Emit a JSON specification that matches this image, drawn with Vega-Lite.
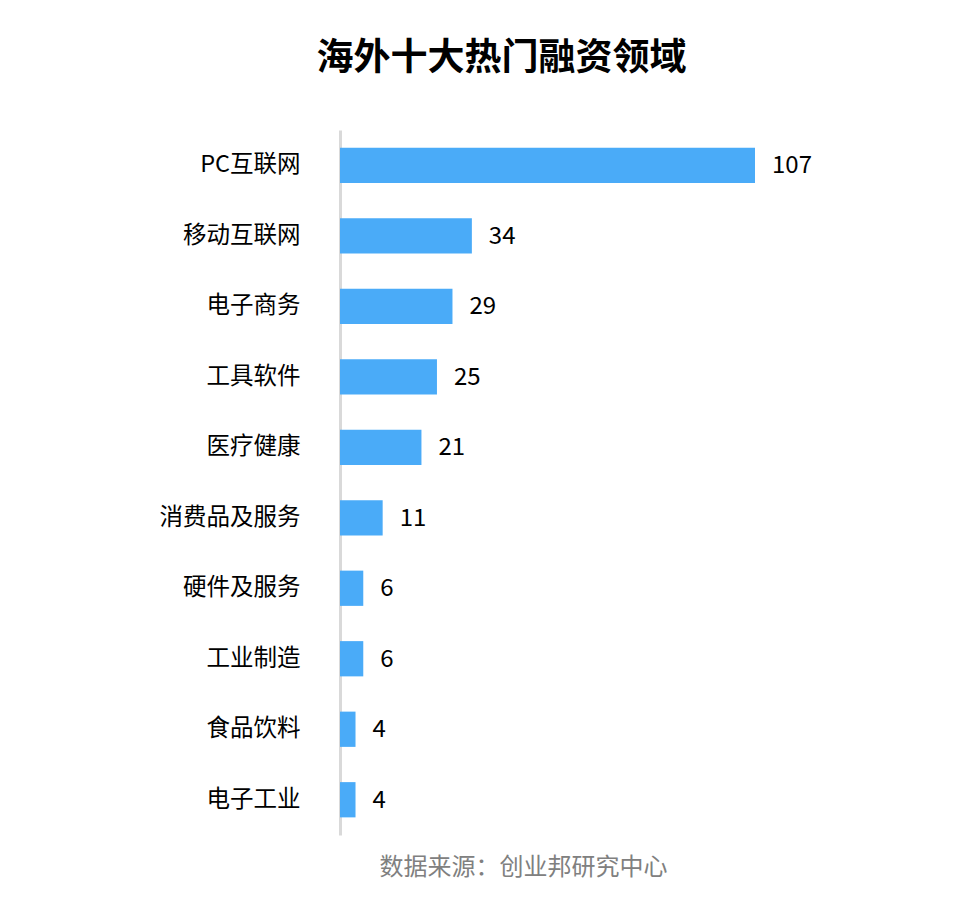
{
  "$schema": "https://vega.github.io/schema/vega-lite/v6.json",
  "autosize": "none",
  "width": 415,
  "height": 705,
  "padding": {"left": 340, "top": 130, "right": 213, "bottom": 79},
  "background": "white",
  "title": {
    "text": "海外十大热门融资领域",
    "font": "Noto Sans CJK SC",
    "fontSize": 37,
    "fontWeight": "bold",
    "color": "#000000",
    "anchor": "middle",
    "frame": "group",
    "dx": -46,
    "offset": 52
  },
  "config": {
    "view": {"stroke": null},
    "font": "Noto Sans CJK SC"
  },
  "data": {
    "values": [
      {"field": "PC互联网", "count": 107},
      {"field": "移动互联网", "count": 34},
      {"field": "电子商务", "count": 29},
      {"field": "工具软件", "count": 25},
      {"field": "医疗健康", "count": 21},
      {"field": "消费品及服务", "count": 11},
      {"field": "硬件及服务", "count": 6},
      {"field": "工业制造", "count": 6},
      {"field": "食品饮料", "count": 4},
      {"field": "电子工业", "count": 4}
    ]
  },
  "encoding": {
    "y": {
      "field": "field",
      "type": "nominal",
      "sort": null,
      "scale": {"paddingInner": 0.5, "paddingOuter": 0.25},
      "axis": {
        "title": null,
        "ticks": false,
        "domainColor": "#d9d9d9",
        "domainWidth": 3,
        "labelFont": "Noto Sans CJK SC",
        "labelFontSize": 23.5,
        "labelColor": "#000000",
        "labelPadding": 40
      }
    },
    "x": {
      "field": "count",
      "type": "quantitative",
      "scale": {"domain": [0, 107], "nice": false},
      "axis": {
        "domain": false,
        "ticks": false,
        "labels": false,
        "grid": false,
        "title": "数据来源：创业邦研究中心",
        "titleFont": "Noto Sans CJK SC",
        "titleFontSize": 24,
        "titleFontWeight": "normal",
        "titleColor": "#808080",
        "titleX": 183,
        "titlePadding": 20
      }
    }
  },
  "layer": [
    {"mark": {"type": "bar", "color": "#4AABF8"}},
    {
      "mark": {
        "type": "text",
        "align": "left",
        "baseline": "middle",
        "dx": 17,
        "dy": 1,
        "fontSize": 24,
        "font": "Noto Sans CJK SC",
        "color": "#000000"
      },
      "encoding": {"text": {"field": "count", "type": "quantitative"}}
    }
  ]
}
